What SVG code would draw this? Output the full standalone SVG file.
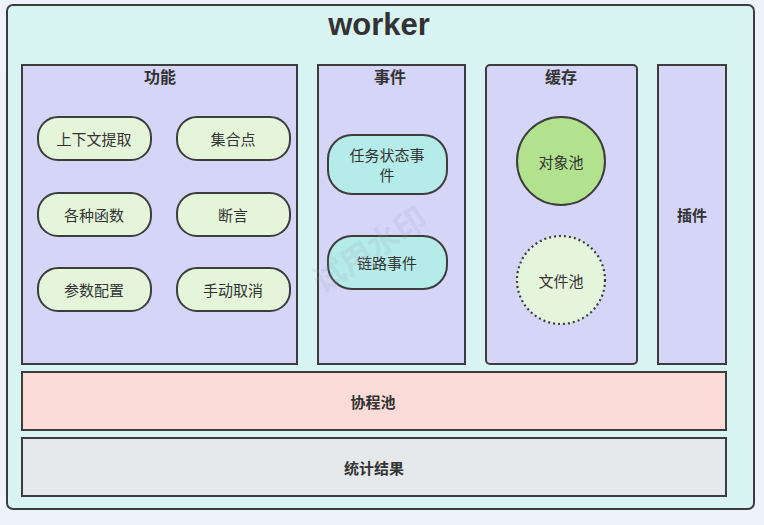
<svg xmlns="http://www.w3.org/2000/svg" width="764" height="525" viewBox="0 0 764 525">
<style>
text{font-family:"Liberation Sans","Noto Sans CJK SC",sans-serif;fill:#333;text-anchor:middle;dominant-baseline:central}
.frame{fill:#d9f5f3;stroke:#3d3d3d;stroke-width:2}
.group{fill:#d4d5f7;stroke:#3d3d3d;stroke-width:2}
.pill{fill:#e4f5da;stroke:#3d3d3d;stroke-width:2}
.pillc{fill:#b5ebe8;stroke:#3d3d3d;stroke-width:2}
.h{font-size:16px;font-weight:bold}
.t{font-size:15px}
.b{font-size:15px;font-weight:bold}
</style>
<rect width="764" height="525" fill="#eef2fb"/>
<g id="worker">
<rect class="frame" x="7" y="5" width="747" height="504" rx="6"/>
<text x="379" y="24" style="font-size:31px;font-weight:bold">worker</text>
</g>
<g id="gongneng">
<rect class="group" x="22" y="65" width="275" height="299"/>
<text class="h" x="160" y="77">功能</text>
</g>
<g id="shijian">
<rect class="group" x="318" y="65" width="147" height="299"/>
<text class="h" x="390" y="77">事件</text>
</g>
<g id="huancun">
<rect class="group" x="486" y="65" width="151" height="299" rx="4"/>
<text class="h" x="561" y="77">缓存</text>
</g>
<g id="chajian">
<rect class="group" x="658" y="65" width="68" height="299"/>
<text class="b" x="692" y="215">插件</text>
</g>
<g id="shangxiawen"><rect class="pill" x="38" y="117" width="113" height="43" rx="20"/><text class="t" x="94" y="139">上下文提取</text></g>
<g id="jihedian"><rect class="pill" x="177" y="117" width="113" height="43" rx="20"/><text class="t" x="233" y="139">集合点</text></g>
<g id="gezhonghanshu"><rect class="pill" x="38" y="193" width="113" height="43" rx="20"/><text class="t" x="94" y="215">各种函数</text></g>
<g id="duanyan"><rect class="pill" x="177" y="193" width="113" height="43" rx="20"/><text class="t" x="233" y="215">断言</text></g>
<g id="canshupeizhi"><rect class="pill" x="38" y="268" width="113" height="43" rx="20"/><text class="t" x="94" y="290">参数配置</text></g>
<g id="shoudongquxiao"><rect class="pill" x="177" y="268" width="113" height="43" rx="20"/><text class="t" x="233" y="290">手动取消</text></g>
<g id="renwuzhuangtai"><rect class="pillc" x="328" y="135" width="119" height="59" rx="24"/><text class="t" x="387" y="155">任务状态事</text><text class="t" x="387" y="175">件</text></g>
<g id="lianlu"><rect class="pillc" x="328" y="236" width="119" height="53" rx="24"/><text class="t" x="387" y="263">链路事件</text></g>
<g id="duixiangchi"><circle cx="561" cy="161" r="44" fill="#b2e28e" stroke="#3d3d3d" stroke-width="2"/><text class="t" x="561" y="162">对象池</text></g>
<g id="wenjianchi"><circle cx="561" cy="280" r="44" fill="#e5f5db" stroke="#3d3d3d" stroke-width="2.2" stroke-dasharray="2 3"/><text class="t" x="561" y="281">文件池</text></g>
<g id="xiechengchi">
<rect x="22" y="372" width="704" height="58" fill="#fadbd8" stroke="#3d3d3d" stroke-width="2"/>
<text class="b" x="373" y="402">协程池</text>
</g>
<g id="tongjijieguo">
<rect x="22" y="438" width="704" height="58" fill="#e6e9ec" stroke="#3d3d3d" stroke-width="2"/>
<text class="b" x="374" y="468">统计结果</text>
</g>
<g id="connectors"></g>
<text x="370" y="250" transform="rotate(-33 370 250)" style="font-size:32px;font-weight:bold;fill:#a0a0b8;fill-opacity:0.18">试用水印</text>
</svg>
